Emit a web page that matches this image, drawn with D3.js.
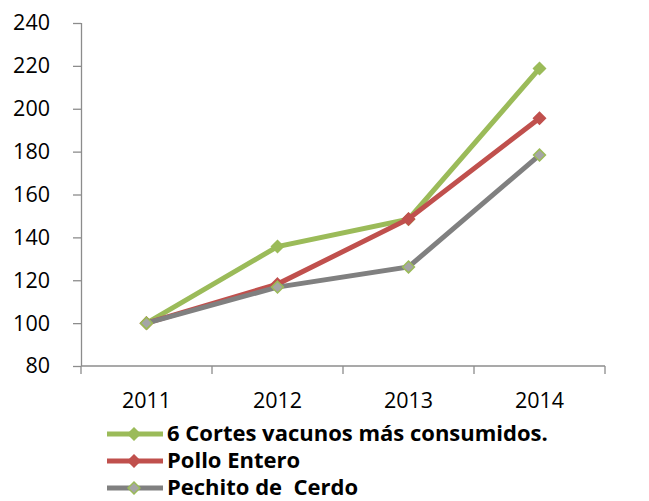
<!DOCTYPE html>
<html>
<head>
<meta charset="utf-8">
<script src="https://cdn.jsdelivr.net/npm/d3@7"></script>
<style>
  body { margin: 0; background: #fff; }
  svg text { font-family: "Open Sans", sans-serif; fill: #000; }
</style>
</head>
<body>
<div id="chart"></div>
<script>
let years = ['2011', '2012', '2013', '2014'];
let seriesNames = ['6 Cortes vacunos más consumidos.', 'Pollo Entero', 'Pechito de  Cerdo'];
let vacunos = [100, 135.7, 148.5, 218.8];
let pollo = [100, 118.2, 148.6, 195.6];
let pechito = [100, 116.8, 126.2, 178.4];
let yTicks = [80, 100, 120, 140, 160, 180, 200, 220, 240];

let lineColors = ['#9bbb59', '#c0504d', '#808080'],
    markerFill = ['#9bbb59', '#c0504d', '#a5a5a5'],
    markerStroke = ['#9bbb59', '#c0504d', '#9bbb59'];

let width = 649, height = 501;
let margin = {left: 81, right: 44, top: 23, bottom: 135};

let svg = d3.select('#chart').append('svg')
    .attr('width', width)
    .attr('height', height);

let x = d3.scaleBand()
    .domain(years)
    .range([margin.left, width - margin.right]);

let y = d3.scaleLinear()
    .domain([80, 240])
    .range([height - margin.bottom, margin.top]);

// y axis
let yAxis = svg.append('g')
    .attr('transform', 'translate(' + margin.left + ',0)')
    .call(d3.axisLeft(y).tickValues(yTicks).tickSize(8).tickPadding(23));
yAxis.selectAll('line, path').attr('stroke', '#8c8c8c').attr('stroke-width', 1.3);
yAxis.selectAll('text').attr('font-size', 21.5).style('font-family', '"Open Sans", sans-serif');
yAxis.select('.domain').attr('d', 'M0.5,' + y(240) + 'V' + y(80));

// x axis, ticks on category boundaries
let xAxis = svg.append('g')
    .attr('transform', 'translate(0,' + y(80) + ')');
xAxis.append('line')
    .attr('x1', margin.left).attr('x2', width - margin.right)
    .attr('stroke', '#8c8c8c').attr('stroke-width', 1.3);
let bounds = years.map(d => x(d)).concat([x(years[years.length - 1]) + x.bandwidth()]);
xAxis.selectAll('.tk').data(bounds).enter().append('line')
    .attr('x1', d => d).attr('x2', d => d)
    .attr('y1', 0).attr('y2', 8)
    .attr('stroke', '#8c8c8c').attr('stroke-width', 1.3);
xAxis.selectAll('.lbl').data(years).enter().append('text')
    .attr('x', d => x(d) + x.bandwidth() / 2)
    .attr('y', 42)
    .attr('text-anchor', 'middle')
    .attr('font-size', 21.5)
    .text(d => d);

let allSeries = [vacunos, pollo, pechito];

let line = d3.line()
    .x((d, i) => x(years[i]) + x.bandwidth() / 2)
    .y(d => y(d));

let diamond = d3.symbol().type(d3.symbolDiamond2).size(90);

allSeries.forEach(function(vals, s) {
    let g = svg.append('g').attr('class', 'series');
    g.append('path')
        .datum(vals)
        .attr('d', line)
        .attr('fill', 'none')
        .attr('stroke', lineColors[s])
        .attr('stroke-width', 5);
    g.selectAll('path.mk').data(vals).enter().append('path')
        .attr('class', 'mk')
        .attr('d', diamond)
        .attr('transform', (d, i) => 'translate(' + (x(years[i]) + x.bandwidth() / 2) + ',' + y(d) + ')')
        .attr('fill', markerFill[s])
        .attr('stroke', markerStroke[s])
        .attr('stroke-width', 1.5);
});

// legend
let legend = svg.append('g').attr('transform', 'translate(107,434)');
seriesNames.forEach(function(name, s) {
    let row = legend.append('g').attr('transform', 'translate(0,' + (s * 27) + ')');
    row.append('line')
        .attr('x1', 0).attr('x2', 56)
        .attr('stroke', lineColors[s]).attr('stroke-width', 5);
    row.append('path')
        .attr('d', diamond)
        .attr('transform', 'translate(27,0)')
        .attr('fill', markerFill[s])
        .attr('stroke', markerStroke[s])
        .attr('stroke-width', 1.5);
    row.append('text')
        .attr('x', 60)
        .attr('y', 7)
        .attr('font-size', 22)
        .attr('font-weight', 'bold')
        .style('white-space', 'pre')
        .text(name);
});
</script>
</body>
</html>
